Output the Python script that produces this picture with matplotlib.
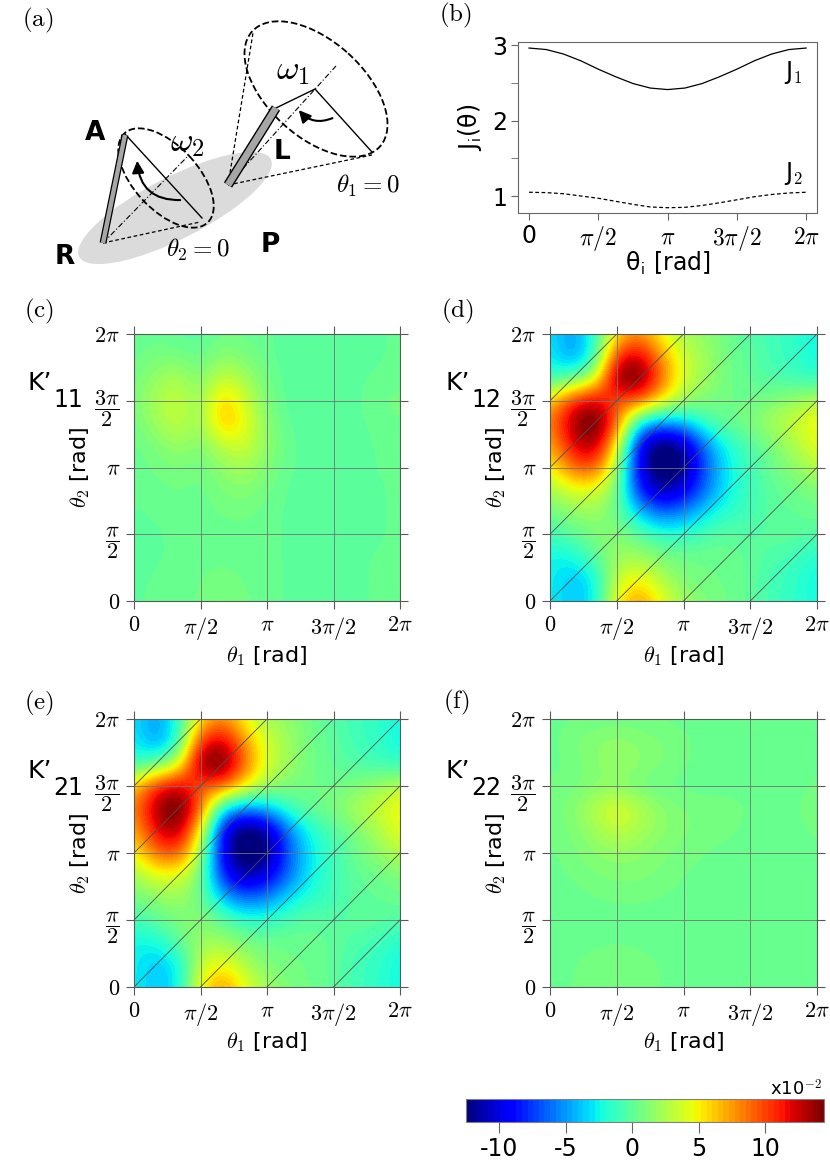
import numpy as np
import matplotlib
matplotlib.use("Agg")
import matplotlib.pyplot as plt
from matplotlib.patches import Ellipse, FancyArrowPatch

plt.rcParams['font.family'] = ['DejaVu Sans']
plt.rcParams['mathtext.fontset'] = 'cm'

W, H = 830, 1161

# panel (b): coupling strengths, sampled every pi/8
theta_b = np.linspace(0, 2 * np.pi, 17)
J1 = [2.96, 2.94, 2.88, 2.79, 2.68, 2.58, 2.49, 2.43, 2.41,
      2.43, 2.49, 2.58, 2.68, 2.79, 2.88, 2.94, 2.96]
J2 = [1.05, 1.045, 1.03, 1.0, 0.97, 0.93, 0.89, 0.855, 0.845,
      0.85, 0.875, 0.91, 0.95, 0.99, 1.02, 1.04, 1.05]

pi_ticks = [0, np.pi / 2, np.pi, 3 * np.pi / 2, 2 * np.pi]
x_labels = ['$0$', r'$\pi/2$', r'$\pi$', r'$3\pi/2$', r'$2\pi$']
y_labels = ['$0$', r'$\dfrac{\pi}{2}$', r'$\pi$', r'$\dfrac{3\pi}{2}$', r'$2\pi$']

# K'_ij maps in units of 1e-2
# rows: theta_2 = 0 .. 2pi (step pi/6), columns: theta_1 = 0 .. 2pi
K11 = [
    [0.0, 0.3, 0.3, 0.6, 1.2, 0.6, 0.3, 0.0, 0.0, 0.0, 0.0, 0.2, 0.3],
    [-0.2, 0.3, 0.3, 0.5, 0.9, 0.4, 0.3, 0.0, 0.0, 0.0, 0.0, 0.2, 0.3],
    [-0.3, 0.0, 0.3, 0.3, 0.3, 0.3, 0.3, 0.0, 0.0, 0.0, 0.0, 0.2, 0.3],
    [-0.3, 0.0, 0.3, 0.3, 0.3, 0.3, 0.3, 0.0, -0.2, -0.2, -0.2, 0.0, 0.3],
    [0.0, 0.3, 0.3, 0.3, 0.6, 0.7, 0.3, 0.0, -0.2, -0.3, -0.2, 0.0, 0.3],
    [0.3, 0.3, 0.6, 0.3, 1.0, 1.3, 0.6, 0.0, -0.3, -0.3, -0.2, 0.0, 0.3],
    [0.3, 0.6, 1.0, 0.5, 1.6, 2.4, 1.0, 0.2, -0.3, -0.3, -0.2, 0.2, 0.3],
    [0.3, 1.0, 2.0, 1.0, 3.0, 3.8, 1.4, 0.3, -0.3, -0.3, -0.2, 0.2, 0.3],
    [0.6, 2.0, 3.4, 1.5, 7.0, 4.6, 1.2, 0.0, -0.3, -0.3, 0.0, 0.3, 0.5],
    [1.0, 2.4, 3.6, 1.5, 6.6, 3.6, 0.9, -0.2, -0.3, -0.3, 0.0, 0.5, 0.8],
    [0.6, 1.8, 2.6, 0.8, 3.6, 2.2, 0.6, -0.2, -0.3, -0.3, 0.0, 0.3, 0.3],
    [0.3, 0.9, 0.9, 0.3, 1.5, 1.0, 0.3, -0.3, -0.3, -0.3, -0.2, 0.0, 0.3],
    [0.3, 0.3, 0.0, -0.3, 0.6, 0.3, 0.3, -0.3, -0.3, -0.3, -0.2, 0.0, 0.3],
]
K12 = [
    [-2.5, -4, -3, 5, 8, 4.5, 2, 1, 0.5, 0, -1, -1.5, -2.5],
    [-2.5, -4, -3, 3.5, 5, 2.5, 1, 0.5, 0.5, 0, -1, -1.5, -2.5],
    [-2.5, -2.5, 0, 2, 2, 1, 0.5, 0.5, 0.5, 0, -0.5, -1, -2],
    [-1, 0, 1, 1.5, 0, -1.5, -1.5, -0.5, 0, -0.5, 0, 0, -0.5],
    [0.5, 1.5, 2, 0.5, -4, -6.5, -5.5, -3, -1.5, -1, 0, 0, 0.5],
    [2, 4, 4, 1, -8.5, -12, -10, -6, -2.5, -1, 0, 0.5, 1],
    [4.5, 9, 10, 2, -10, -14, -12.5, -6.5, -2.5, -1, 0.5, 1.5, 3],
    [6.5, 12, 14, 5, -10, -14, -12, -5.5, -2, -0.5, 1, 2.5, 4.5],
    [8, 13.5, 16, 9.5, -3.5, -5.5, -4, -1, 0.5, 1, 2.5, 3.5, 5],
    [6, 11, 13, 9, 9.5, 5, 2, 1, 0.5, 0.5, 1, 2, 3],
    [-1.5, 0, 3, 15, 15.5, 9, 3.5, 2, 0.5, 0, -0.5, -1, -1.5],
    [-2.5, -5.5, -2, 11, 13, 7.5, 3.5, 2, 0.5, 0, -1, -1.5, -2.5],
    [-3, -5, -2, 5.5, 8, 4.5, 2, 1.5, 0.5, -0.5, -1, -1.5, -2.5],
]
K21 = [
    [-2.5, -4, -3, 5, 8, 4.5, 2, 1, 0.5, 0, -1, -1.5, -2.5],
    [-2.5, -4, -3, 3.5, 5, 2.5, 1, 0.5, 0.5, 0, -1, -1.5, -2.5],
    [-2.5, -2.5, 0, 2, 2, 1, 0.5, 0.5, 0.5, 0, -0.5, -1, -2],
    [-1, 0, 1, 1.5, 0, -1.5, -1.5, -0.5, 0, -0.5, 0, 0, -0.5],
    [0.5, 1.5, 2, 0.5, -4, -6.5, -5.5, -3, -1.5, -1, 0, 0, 0.5],
    [2, 4, 4, 1, -8.5, -12, -10, -6, -2.5, -1, 0, 0.5, 1],
    [4.5, 9, 10, 2, -10, -14, -12.5, -6.5, -2.5, -1, 0.5, 1.5, 3],
    [6.5, 12, 14, 5, -10, -14, -12, -5.5, -2, -0.5, 1, 2.5, 4.5],
    [8, 13.5, 16, 9.5, -3.5, -5.5, -4, -1, 0.5, 1, 2.5, 3.5, 5],
    [6, 11, 13, 9, 9.5, 5, 2, 1, 0.5, 0.5, 1, 2, 3],
    [-1.5, 0, 3, 15, 15.5, 9, 3.5, 2, 0.5, 0, -0.5, -1, -1.5],
    [-2.5, -5.5, -2, 11, 13, 7.5, 3.5, 2, 0.5, 0, -1, -1.5, -2.5],
    [-3, -5, -2, 5.5, 8, 4.5, 2, 1.5, 0.5, -0.5, -1, -1.5, -2.5],
]
K22 = [
    [0.3, 0.5, 0.8, 0.9, 0.8, 0.5, 0.3, 0.3, 0.3, 0.3, 0.3, 0.3, 0.3],
    [0.3, 0.5, 0.8, 0.9, 0.8, 0.5, 0.3, 0.3, 0.3, 0.3, 0.3, 0.3, 0.3],
    [0.3, 0.3, 0.4, 0.5, 0.4, 0.3, 0.3, 0.3, 0.3, 0.3, 0.3, 0.3, 0.3],
    [0.3, 0.3, 0.3, 0.3, 0.3, 0.3, 0.3, 0.3, 0.3, 0.3, 0.3, 0.3, 0.3],
    [0.3, 0.3, 0.5, 0.6, 0.6, 0.5, 0.3, 0.3, 0.3, 0.3, 0.3, 0.3, 0.3],
    [0.3, 0.6, 0.9, 1.1, 1.1, 0.9, 0.5, 0.3, 0.3, 0.3, 0.3, 0.3, 0.3],
    [0.4, 0.8, 1.3, 1.7, 1.4, 1.0, 0.8, 0.5, 0.3, 0.3, 0.3, 0.3, 0.4],
    [0.6, 1.0, 2.0, 3.2, 2.4, 1.5, 1.0, 0.8, 0.7, 0.3, 0.3, 0.3, 0.7],
    [0.7, 1.2, 2.8, 4.4, 2.8, 1.5, 1.0, 0.8, 0.8, 0.5, 0.3, 0.5, 0.9],
    [0.7, 0.7, 1.2, 1.2, 0.7, 0.3, 0.3, 0.3, 0.3, 0.3, 0.3, 0.3, 0.7],
    [0.3, 0.6, 1.3, 2.0, 1.5, 1.0, 0.6, 0.3, 0.3, 0.3, 0.3, 0.3, 0.3],
    [0.3, 1.0, 1.3, 1.7, 1.3, 1.0, 0.7, 0.3, 0.3, 0.3, 0.3, 0.3, 0.3],
    [0.3, 0.5, 0.6, 0.6, 0.6, 0.5, 0.3, 0.3, 0.3, 0.3, 0.3, 0.3, 0.3],
]

cbar_ticks = [-10, -5, 0, 5, 10]
VMIN, VMAX = -12.5, 14.4
cmap = plt.get_cmap('jet', 64)


def px_rect(x0, y0, x1, y1):
    """Axes rect from pixel box (top-left origin)."""
    return [x0 / W, 1 - y1 / H, (x1 - x0) / W, (y1 - y0) / H]


fig = plt.figure(figsize=(W / 100, H / 100), dpi=100)

# ---------- (a) schematic ----------
axa = fig.add_axes([0, 1 - 290 / H, 420 / W, 290 / H])
axa.set_xlim(0, 420)
axa.set_ylim(290, 0)
axa.axis('off')

axa.add_patch(Ellipse((175, 208), 215, 62, angle=-27, facecolor='0.86', edgecolor='none'))

# small cone (rod R-A)
R = (103, 243)
axa.plot([R[0], 122], [R[1], 134], 'k--', lw=0.9, dashes=(3, 2))
axa.plot([R[0], 200], [R[1], 222], 'k--', lw=0.9, dashes=(3, 2))
axa.plot([R[0], 188], [R[1], 156], 'k-.', lw=0.8, dashes=(5, 2, 1, 2))
axa.add_patch(Ellipse((166, 178), 122, 64, angle=47, fill=False, ls='--', lw=1.3, edgecolor='k'))
axa.plot([125, 202], [134, 218], 'k-', lw=1.0)
axa.plot([R[0], 125], [R[1], 135], color='k', lw=5, solid_capstyle='butt')
axa.plot([R[0], 125], [R[1], 135], color='0.65', lw=3.2, solid_capstyle='butt')
axa.add_patch(FancyArrowPatch((183, 200), (137, 158), connectionstyle='arc3,rad=-0.5',
                              arrowstyle='-|>', mutation_scale=18, lw=1.5, color='k'))

# big cone (rod L)
B = (228, 185)
axa.plot([B[0], 253], [B[1], 33], 'k--', lw=0.9, dashes=(3, 2))
axa.plot([B[0], 372], [B[1], 155], 'k--', lw=0.9, dashes=(3, 2))
axa.plot([B[0], 336], [B[1], 66], 'k-.', lw=0.8, dashes=(5, 2, 1, 2))
axa.add_patch(Ellipse((316, 89), 172, 96, angle=42, fill=False, ls='--', lw=1.3, edgecolor='k'))
axa.plot([276, 315, 372], [108, 89, 152], 'k-', lw=1.0)
axa.plot([B[0], 276], [B[1], 108], color='k', lw=7, solid_capstyle='butt')
axa.plot([B[0], 276], [B[1], 108], color='0.65', lw=5, solid_capstyle='butt')
axa.add_patch(FancyArrowPatch((335, 117), (297, 108), connectionstyle='arc3,rad=-0.4',
                              arrowstyle='-|>', mutation_scale=18, lw=1.5, color='k'))

for s, (x, y) in {'A': (95, 133), 'R': (65, 257), 'P': (270, 245), 'L': (282, 152)}.items():
    axa.text(x, y, s, fontsize=19, fontweight='bold', ha='center', va='center')
axa.text(187, 142, r'$\omega_2$', fontsize=25, ha='center', va='center')
axa.text(293, 70, r'$\omega_1$', fontsize=25, ha='center', va='center')
axa.text(198, 250, r'$\theta_2=0$', fontsize=18, ha='center', va='center')
axa.text(368, 186, r'$\theta_1=0$', fontsize=18, ha='center', va='center')

# ---------- panel letters ----------
for s, (x, y) in {'a': (38, 20), 'b': (455, 15), 'c': (39, 311), 'd': (457, 311),
                  'e': (39, 703), 'f': (456, 702)}.items():
    fig.text(x / W, 1 - y / H, r'$\mathrm{(%s)}$' % s, fontsize=18, ha='center', va='center')

# ---------- (b) J_i(theta) ----------
axb = fig.add_axes(px_rect(518, 42, 817, 213))
axb.plot(theta_b, J1, color='k', lw=0.9)
axb.plot(theta_b, J2, color='k', lw=0.9, ls=(0, (3, 2)))
axb.set_xlim(-0.25, 6.53)
axb.set_ylim(0.775, 3.04)
axb.set_xticks(pi_ticks)
axb.set_xticklabels(['0'] + x_labels[1:], fontsize=17)
axb.set_yticks([1, 2, 3])
axb.set_yticks([1.5, 2.5], minor=True)
axb.tick_params(which='both', direction='out', length=5, color='0.4', labelsize=17, pad=3)
for sp in axb.spines.values():
    sp.set_color('0.4')
axb.set_xlabel(r'θ$_\mathsf{i}$ [rad]', fontsize=17, labelpad=-2)
axb.set_ylabel(r'J$_\mathsf{i}$(θ)', fontsize=17, labelpad=6)
axb.text(5.99, 2.63, r'J$_\mathsf{1}$', fontsize=17, ha='center', va='center')
axb.text(5.99, 1.30, r'J$_\mathsf{2}$', fontsize=17, ha='center', va='center')

# ---------- (c)-(f) heat maps ----------
step = np.pi / 6
ext = [-step / 2, 2 * np.pi + step / 2, -step / 2, 2 * np.pi + step / 2]


def heat_panel(box, data, sub, diag, kx, ky):
    ax = fig.add_axes(px_rect(*box))
    im = ax.imshow(np.array(data, dtype=float), origin='lower', extent=ext, cmap=cmap,
                   vmin=VMIN, vmax=VMAX, interpolation='bicubic',
                   interpolation_stage='data', aspect='auto')
    ax.set_xlim(0, 2 * np.pi)
    ax.set_ylim(0, 2 * np.pi)
    ax.set_xticks(pi_ticks)
    ax.set_yticks(pi_ticks)
    ax.set_xticklabels(x_labels)
    ax.set_yticklabels(y_labels)
    ax.grid(True, color='0.45', lw=0.6)
    ax.tick_params(direction='out', length=6, width=0.8, color='0.35', top=True, right=True,
                   labelsize=16, pad=4)
    for sp in ax.spines.values():
        sp.set_color('0.35')
    if diag:
        for k in range(-3, 4):
            ax.plot([0, 2 * np.pi], [k * np.pi / 2, 2 * np.pi + k * np.pi / 2],
                    color='0.3', lw=0.6)
    ax.set_xlabel(r'$\theta_{\mathsf{1}}$ [rad]', fontsize=16, labelpad=2)
    ax.set_ylabel(r'$\theta_{\mathsf{2}}$ [rad]', fontsize=16, labelpad=2)
    fig.text(kx / W, 1 - ky / H, "K’", fontsize=18, ha='left', va='baseline')
    fig.text((kx + 26) / W, 1 - (ky + 17) / H, sub, fontsize=17, ha='left', va='baseline')
    return im


heat_panel((134, 334, 400, 601), K11, '11', False, 27, 390)
im = heat_panel((550, 334, 817, 601), K12, '12', True, 445, 390)
heat_panel((134, 719, 400, 987), K21, '21', True, 27, 778)
heat_panel((550, 719, 817, 987), K22, '22', False, 445, 778)

# ---------- colour bar ----------
cax = fig.add_axes(px_rect(466, 1099, 824, 1122))
cb = fig.colorbar(im, cax=cax, orientation='horizontal', ticks=cbar_ticks)
cb.outline.set_edgecolor('0.5')
cax.tick_params(direction='out', length=8, color='0.4', labelsize=17, pad=3)
cax.set_xticklabels(['-10', '-5', '0', '5', '10'])
fig.text(822 / W, 1 - 1095 / H, r'x10$^{\mathsf{-2}}$', fontsize=13, ha='right', va='baseline')

fig.savefig('out.png', dpi=100)
